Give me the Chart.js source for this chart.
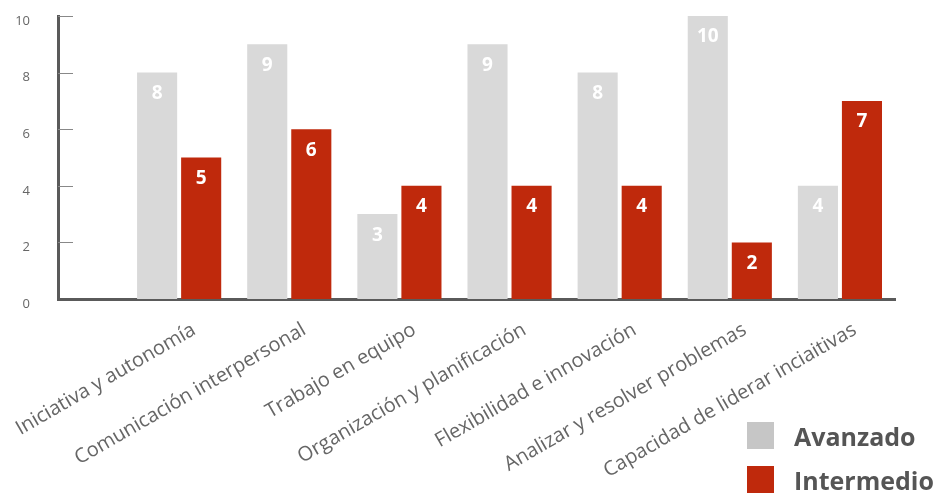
<!DOCTYPE html>
<html lang="es">
<head>
<meta charset="utf-8">
<script src="https://cdn.jsdelivr.net/npm/chart.js@4.4.1/dist/chart.umd.min.js"></script>
<style>
    html, body { margin: 0; padding: 0; background: #fff; }
    #wrap { position: relative; width: 944px; height: 493px; overflow: hidden; }
    #legend { position: absolute; left: 747px; top: 422px; font-family: 'Open Sans', sans-serif; }
    .item { display: flex; align-items: center; height: 27px; margin-bottom: 17px; white-space: nowrap; }
    .swatch { width: 27px; height: 27px; margin-right: 20px; }
    .name { font-size: 25px; font-weight: 700; color: #555; }
</style>
</head>
<body>
<div id="wrap">
    <canvas id="skillsChart" width="944" height="493"></canvas>
    <div id="legend"></div>
</div>
<script>
const categories = [
    'Iniciativa y autonomía',
    'Comunicación interpersonal',
    'Trabajo en equipo',
    'Organización y planificación',
    'Flexibilidad e innovación',
    'Analizar y resolver problemas',
    'Capacidad de liderar inciaitivas'
];
const avanzado = [8, 9, 3, 9, 8, 10, 4];
const intermedio = [5, 6, 4, 4, 4, 2, 7];
const yTicks = [0, 2, 4, 6, 8, 10];

const barColors = ['#d9d9d9', '#bf290c'];
const swatchColors = ['#c6c6c6', '#bf290c'];

// value printed in white near the top of every bar
const barValues = {
    id: 'barValues',
    afterDatasetsDraw(chart) {
        const ctx = chart.ctx;
        ctx.save();
        ctx.fillStyle = '#fff';
        ctx.font = "bold 19px 'Open Sans'";
        ctx.textAlign = 'center';
        ctx.textBaseline = 'middle';
        chart.data.datasets.forEach((ds, i) => {
            chart.getDatasetMeta(i).data.forEach((bar, j) => {
                ctx.fillText(ds.data[j].y, bar.x, bar.y + 21);
            });
        });
        ctx.restore();
    }
};

// short tick marks pointing into the plot from the y axis
const innerTicks = {
    id: 'innerTicks',
    afterDraw(chart) {
        const y = chart.scales.y;
        const ctx = chart.ctx;
        ctx.save();
        ctx.strokeStyle = '#888';
        ctx.lineWidth = 1;
        y.ticks.forEach(t => {
            if (t.value === 0) return;
            const py = Math.round(y.getPixelForValue(t.value)) + 0.5;
            ctx.beginPath();
            ctx.moveTo(y.right, py);
            ctx.lineTo(y.right + 15, py);
            ctx.stroke();
        });
        ctx.restore();
    }
};

// vertical legend in the lower right corner
const htmlLegend = {
    id: 'htmlLegend',
    afterUpdate(chart) {
        const box = document.getElementById('legend');
        box.innerHTML = '';
        chart.data.datasets.forEach((ds, i) => {
            const item = document.createElement('div');
            item.className = 'item';
            item.innerHTML = `<span class="swatch" style="background:${swatchColors[i]}"></span><span class="name">${ds.label}</span>`;
            box.appendChild(item);
        });
    }
};

const toPoints = arr => arr.map((v, i) => ({ x: i, y: v }));

const ctx = document.getElementById('skillsChart').getContext('2d');
new Chart(ctx, {
    type: 'bar',
    data: {
        datasets: [{
            label: 'Avanzado',
            data: toPoints(avanzado),
            backgroundColor: barColors[0]
        }, {
            label: 'Intermedio',
            data: toPoints(intermedio),
            backgroundColor: barColors[1]
        }]
    },
    options: {
        responsive: false,
        animation: false,
        categoryPercentage: 0.8,
        barPercentage: 0.91,
        layout: {
            padding: { top: 16, right: 49, left: 0, bottom: 0 }
        },
        plugins: {
            legend: { display: false },
            tooltip: { enabled: false }
        },
        scales: {
            x: {
                type: 'linear',
                offset: false,
                min: -1.1,
                max: 6.5,
                afterBuildTicks(scale) {
                    scale.ticks = categories.map((_, i) => ({ value: i }));
                },
                afterFit(scale) {
                    scale.height = 194;
                    scale.paddingLeft = 0;
                    scale.paddingRight = 0;
                },
                grid: { display: false, drawTicks: false, offset: false },
                border: { display: true, color: '#5a5a5a', width: 3 },
                ticks: {
                    autoSkip: false,
                    minRotation: 30,
                    maxRotation: 30,
                    padding: 19,
                    labelOffset: 15,
                    color: '#666',
                    font: { family: 'Open Sans', size: 20 },
                    callback: value => categories[value]
                }
            },
            y: {
                min: 0,
                max: 10,
                afterBuildTicks(scale) {
                    scale.ticks = yTicks.map(v => ({ value: v }));
                },
                afterFit(scale) {
                    scale.width = 58;
                    scale.paddingTop = 0;
                    scale.paddingBottom = 0;
                },
                grid: { display: false, drawTicks: false },
                border: { display: true, color: '#5a5a5a', width: 3 },
                ticks: {
                    padding: 28,
                    labelOffset: 5,
                    color: '#666',
                    font: { family: 'Open Sans', size: 13 }
                }
            }
        }
    },
    plugins: [barValues, innerTicks, htmlLegend]
});
</script>
</body>
</html>
